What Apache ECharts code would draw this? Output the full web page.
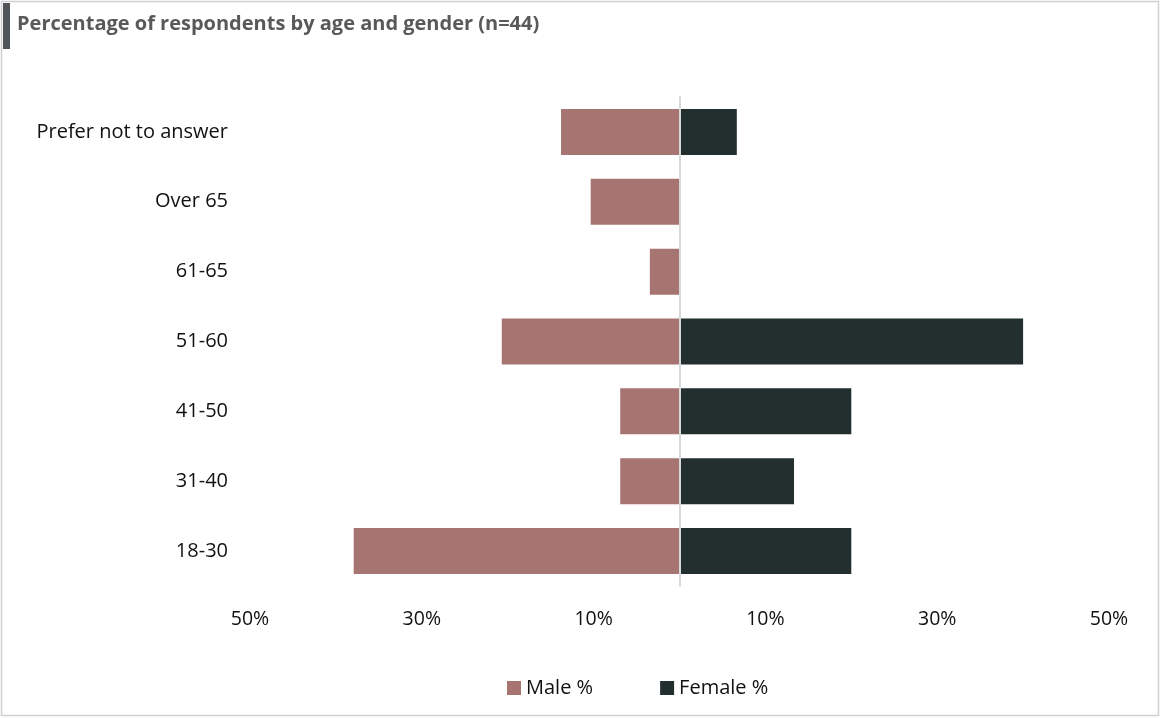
<!DOCTYPE html>
<html>
<head>
<meta charset="utf-8">
<script src="https://cdn.jsdelivr.net/npm/echarts@6/dist/echarts.min.js"></script>
<style>
html,body{margin:0;padding:0;background:#fff;}
#chart{width:1161px;height:718px;}
</style>
</head>
<body>
<div id="chart"></div>
<script>
const categories = ['18-30', '31-40', '41-50', '51-60', '61-65', 'Over 65', 'Prefer not to answer'];
const maleValues = [37.93, 6.90, 6.90, 20.69, 3.45, 10.34, 13.79];
const femaleValues = [20.00, 13.33, 20.00, 40.00, 0, 0, 6.67];
const seriesNames = ['Male %', 'Female %'];
const titleText = 'Percentage of respondents by age and gender (n=44)';

const FONT = '"Open Sans", "Liberation Sans", sans-serif';
const chart = echarts.init(document.getElementById('chart'));
chart.setOption({
  backgroundColor: '#fff',
  animation: false,
  graphic: [
    { type: 'rect', shape: { x: 1.5, y: 1.5, width: 1157, height: 714 }, style: { fill: 'none', stroke: '#d0d0d0', lineWidth: 1.5 }, z: 0 },
    { type: 'rect', shape: { x: 3, y: 3, width: 7, height: 46 }, style: { fill: '#50555a' }, z: 10 },
    { type: 'text', left: 17, top: 14, style: { text: titleText, font: 'bold 20px ' + FONT, fill: '#595959' }, z: 10 }
  ],
  grid: { left: 250, right: 52, top: 97, bottom: 132, containLabel: false },
  legend: {
    data: seriesNames,
    left: 502, top: 673,
    icon: 'rect', itemWidth: 14, itemHeight: 14, itemGap: 67,
    textStyle: { fontFamily: FONT, fontSize: 20, color: '#111' }
  },
  xAxis: {
    type: 'value', min: -50, max: 50, interval: 10,
    axisLine: { show: false }, axisTick: { show: false }, splitLine: { show: false },
    axisLabel: {
      margin: 23, fontFamily: FONT, fontSize: 19.5, color: '#111',
      formatter: v => (Math.abs(v) % 20 === 10 ? Math.abs(v) + '%' : '')
    }
  },
  yAxis: {
    type: 'category', data: categories,
    axisLine: { show: true, onZero: true, lineStyle: { color: '#d9d9d9', width: 2 } },
    axisTick: { show: false },
    axisLabel: { margin: 22, fontFamily: FONT, fontSize: 20, color: '#111' },
    z: 5
  },
  series: [
    {
      name: seriesNames[0], type: 'bar', barWidth: 46, barGap: '-100%',
      data: maleValues.map(v => -v),
      itemStyle: { color: '#a67572' }
    },
    {
      name: seriesNames[1], type: 'bar', barWidth: 46, barGap: '-100%',
      data: femaleValues,
      itemStyle: { color: '#232e2e' }
    }
  ]
});
</script>
</body>
</html>
